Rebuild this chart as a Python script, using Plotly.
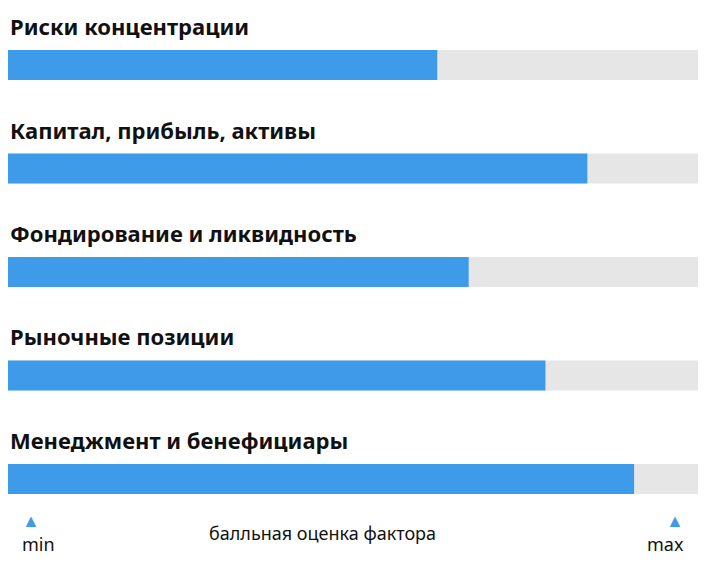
import plotly.graph_objects as go

factors = ["Риски концентрации", "Капитал, прибыль, активы", "Фондирование и ликвидность",
           "Рыночные позиции", "Менеджмент и бенефициары"]
scores = [61.5, 83, 66, 77, 89.7]
max_score = 100
axis_caption = "балльная оценка фактора"

idx = list(range(len(factors)))
fig = go.Figure()
fig.add_trace(go.Bar(y=idx, x=[max_score] * len(factors), orientation="h",
                     marker=dict(color="#e6e6e6", line_width=0), width=0.29, hoverinfo="skip"))
fig.add_trace(go.Bar(y=idx, x=scores, orientation="h",
                     marker=dict(color="#3d9be9", line_width=0), width=0.29))

for i, name in enumerate(factors):
    fig.add_annotation(x=0, y=i, xref="x", yref="y", text="<b>" + name + "</b>", showarrow=False,
                       xanchor="left", yanchor="middle", yshift=39, xshift=0,
                       font=dict(size=22, color="#111111", family="Noto Sans"))

bottom = [("▲", 0.017, 0.072, "#3d9be9", 18), ("min", 0.017, 0.03, "#111111", 18),
          ("▲", 0.971, 0.072, "#3d9be9", 18), ("max", 0.971, 0.03, "#111111", 18),
          (axis_caption, 0.45, 0.05, "#111111", 18)]
for t, x, y, c, s in bottom:
    fig.add_annotation(x=x, y=y, xref="paper", yref="paper", text=t, showarrow=False,
                       font=dict(size=s, color=c, family="Noto Sans"))

fig.update_layout(width=698, height=567, barmode="overlay", showlegend=False,
                  margin=dict(l=0, r=0, t=0, b=0), plot_bgcolor="white", paper_bgcolor="white")
fig.update_xaxes(range=[0, max_score], visible=False)
fig.update_yaxes(range=[4.928, -0.551], visible=False)
fig.write_html("out.html")
